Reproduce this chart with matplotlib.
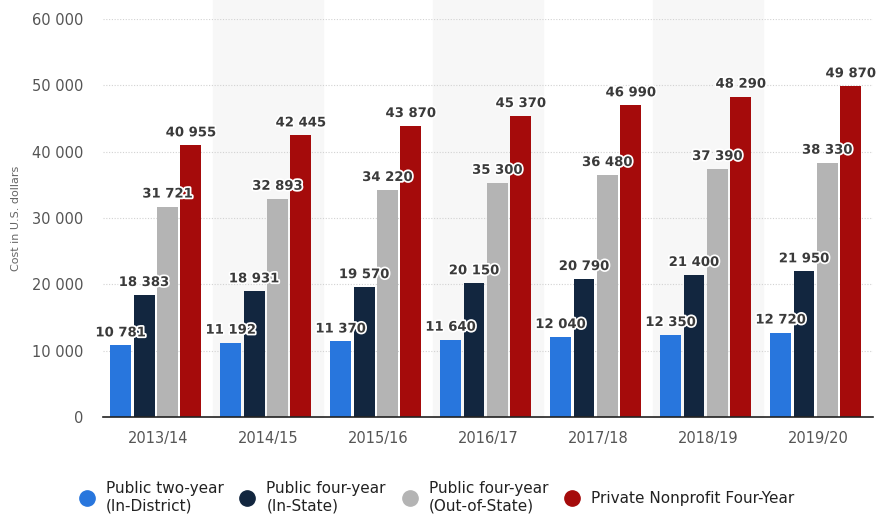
import matplotlib.pyplot as plt
import matplotlib.patheffects as pe
from matplotlib.lines import Line2D
import numpy as np

years = ["2013/14", "2014/15", "2015/16", "2016/17", "2017/18", "2018/19", "2019/20"]
two_year = [10781, 11192, 11370, 11640, 12040, 12350, 12720]
four_in = [18383, 18931, 19570, 20150, 20790, 21400, 21950]
four_out = [31721, 32893, 34220, 35300, 36480, 37390, 38330]
private = [40955, 42445, 43870, 45370, 46990, 48290, 49870]

series = [two_year, four_in, four_out, private]
names = ["Public two-year\n(In-District)", "Public four-year\n(In-State)",
         "Public four-year\n(Out-of-State)", "Private Nonprofit Four-Year"]
colors = ["#2876dd", "#12263f", "#b4b4b4", "#a50b0b"]

fig = plt.figure(figsize=(8.88, 5.27), dpi=100)
ax = fig.add_axes([0.116, 0.209, 0.867, 0.755])

x = np.arange(len(years))
w = 0.19
step = 0.213

# alternating background bands
for i in range(1, len(years), 2):
    ax.axvspan(i - 0.5, i + 0.5, ymin=0, ymax=1.05, color="#f7f7f7", zorder=0, clip_on=False)

for k, (vals, c) in enumerate(zip(series, colors)):
    pos = x + (k - 1.5) * step - 0.02
    ax.bar(pos, vals, width=w, color=c, zorder=3)
    for px, v in zip(pos, vals):
        s = f"{v:,}".replace(",", " ")
        ax.text(px, v + 900, s, ha="center", va="bottom", fontsize=9.5, fontweight="bold",
                color="#3a3a3a", zorder=5,
                path_effects=[pe.withStroke(linewidth=2.5, foreground="white")])

ax.set_xlim(-0.5, len(years) - 0.5)
ax.set_ylim(0, 60000)
ax.set_yticks(range(0, 60001, 10000))
ax.set_yticklabels([f"{t:,}".replace(",", " ") for t in range(0, 60001, 10000)])
ax.set_xticks(x)
ax.set_xticklabels(years)
ax.tick_params(axis="both", length=0, labelsize=10.5, colors="#555555", pad=10)
ax.tick_params(axis="y", pad=14)
ax.grid(axis="y", color="#d2d2d2", linestyle=(0, (1, 1.5)), linewidth=0.8, zorder=1)
for sp in ["top", "right", "left"]:
    ax.spines[sp].set_visible(False)
ax.spines["bottom"].set_color("#222222")
ax.spines["bottom"].set_linewidth(1.2)
ax.spines["bottom"].set_zorder(4)
ax.set_ylabel("Cost in U.S. dollars", fontsize=8, color="#666666", labelpad=8)

handles = [Line2D([0], [0], marker="o", linestyle="", markersize=11, color=c) for c in colors]
fig.legend(handles, names, loc="lower left", bbox_to_anchor=(0.065, 0.0), ncol=4,
           frameon=False, fontsize=11, handletextpad=0.25, columnspacing=0.55,
           labelcolor="#222222")

fig.savefig("out.png", dpi=100)
